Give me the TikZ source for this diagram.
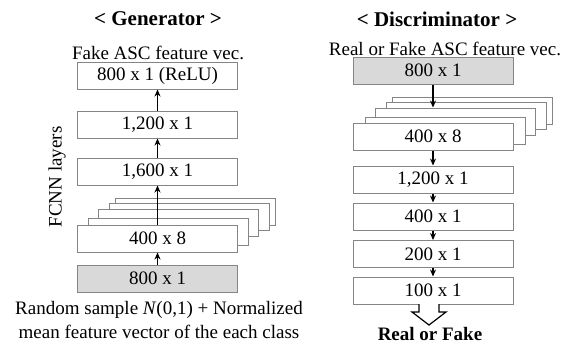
\documentclass[tikz,border=0pt]{standalone}
\usepackage{fontspec}
\setmainfont{Liberation Serif}
\usetikzlibrary{arrows.meta,positioning}
\definecolor{inputgray}{HTML}{D9D9D9}
\definecolor{edge}{HTML}{858585}

\begin{document}
\begin{tikzpicture}[x=1pt,y=-1pt,
  font=\fontsize{19}{24}\selectfont,
  layer/.style={draw=edge,fill=white,line width=1pt,minimum width=160pt,minimum height=27pt,inner sep=0pt},
  inlayer/.style={layer,fill=inputgray},
  flow/.style={line width=1.4pt,-{Stealth[length=7pt,width=6pt]}},
  title/.style={font=\fontsize{21}{24}\selectfont\bfseries}]
  \useasboundingbox (0,0) rectangle (568,343);

  % Generator
  \node[title] (gtitle) at (158,19) {< Generator >};
  \node (gout) at (158,53) {Fake ASC feature vec.};
  \node[layer] (g5) at (157.5,75.5) {800 x 1 (ReLU)};
  \node[layer] (g4) at (157.5,124.5) {1,200 x 1};
  \node[layer] (g3) at (157.5,171.5) {1,600 x 1};
  % stacked 400 x 8 layers
  \foreach \dx/\dy [count=\i] in {38/-27,32/-22,21/-16,11/-7}
    \node[layer] (gb\i) at (157.5+\dx,238.5+\dy) {};
  \node[layer] (g2) at (157.5,238.5) {400 x 8};
  \node[inlayer] (g1) at (157.5,278.5) {800 x 1};
  \draw[flow] (g1) -- (g2);
  \draw[flow] (g2) -- (g3);
  \draw[flow] (g3) -- (g4);
  \draw[flow] (g4) -- (g5);
  \node[rotate=90] (fcnn) at (57,177) {FCNN layers};
  \node[align=center] (gin) at (159,320) {Random sample \textit{N}(0,1) + Normalized\\mean feature vector of the each class};

  % Discriminator
  \node[title] (dtitle) at (437,19) {< Discriminator >};
  \node (din) at (445,49) {Real or Fake ASC feature vec.};
  \node[inlayer] (d1) at (433,70.5) {800 x 1};
  \foreach \dx/\dy [count=\i] in {39/-26,33/-21,22/-15,12/-6}
    \node[layer] (db\i) at (433+\dx,136.5+\dy) {};
  \node[layer] (d2) at (433,136.5) {400 x 8};
  \node[layer] (d3) at (433,179.5) {1,200 x 1};
  \node[layer] (d4) at (433,216.5) {400 x 1};
  \node[layer] (d5) at (433,254) {200 x 1};
  \node[layer] (d6) at (433,290.5) {100 x 1};
  \draw[flow] (d1) -- (d1 |- db3.north);
  \draw[flow] (d2) -- (d3);
  \draw[flow] (d3) -- (d4);
  \draw[flow] (d4) -- (d5);
  \draw[flow] (d5) -- (d6);

  % hollow output arrow
  \draw[line width=1.2pt,fill=white] (419,304) -- (419,312) -- (412,312) -- (429,325)
    -- (446,312) -- (439,312) -- (439,304);
  \node[font=\fontsize{19}{24}\selectfont\bfseries] (dout) at (430,333.5) {Real or Fake};
\end{tikzpicture}
\end{document}
